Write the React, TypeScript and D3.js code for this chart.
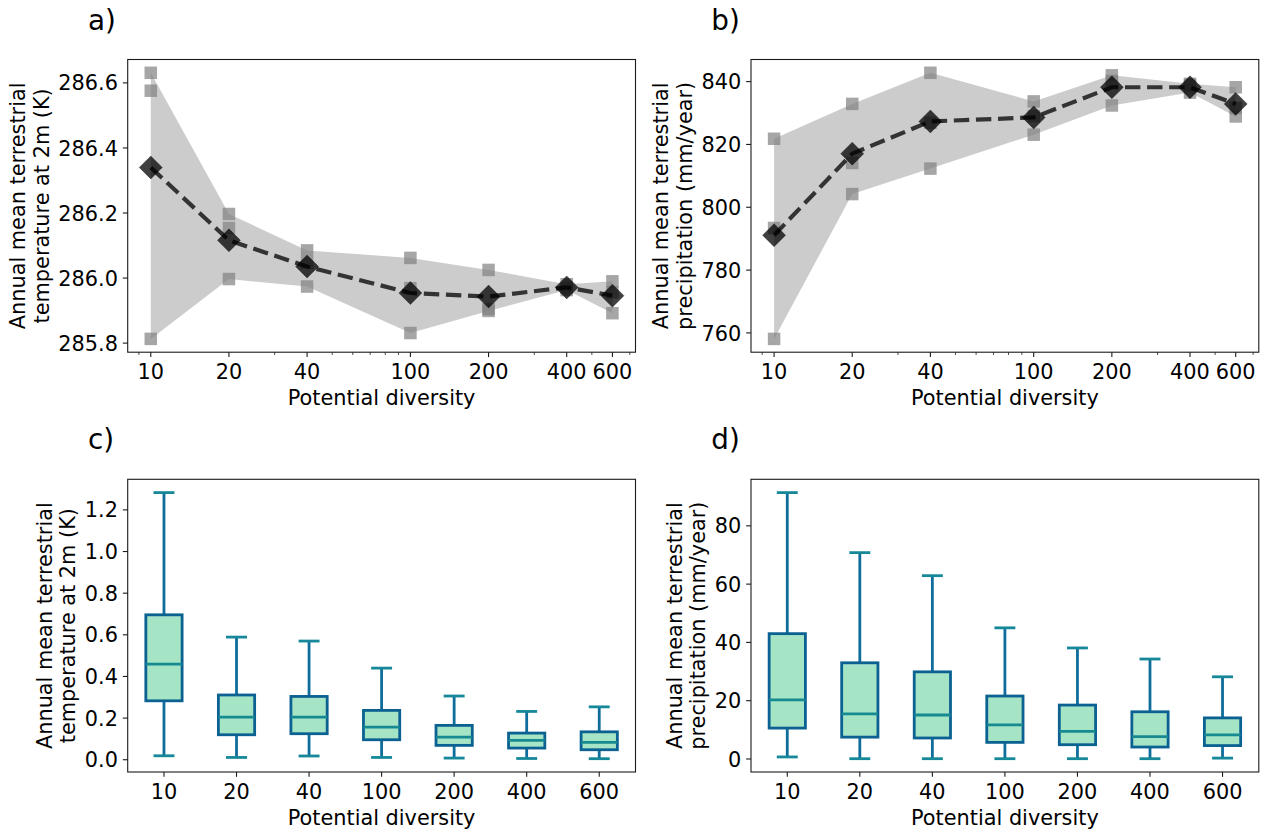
import React from 'react';
import * as d3 from 'd3';

// ---------- data ----------
const diversity = [10, 20, 40, 100, 200, 400, 600];
const diversityLabels = ['10', '20', '40', '100', '200', '400', '600'];

// panel a: three runs of annual mean terrestrial 2m temperature (K)
const tempRun1 = [286.631, 286.197, 286.085, 286.062, 286.025, 285.981, 285.990];
const tempRun2 = [286.576, 286.154, 286.047, 285.969, 285.905, 285.970, 285.956];
const tempRun3 = [285.813, 285.997, 285.974, 285.831, 285.899, 285.963, 285.892];
const tempTicks = [285.8, 286.0, 286.2, 286.4, 286.6];

// panel b: three runs of annual mean terrestrial precipitation (mm/year)
const precRun1 = [821.8, 832.9, 842.8, 833.7, 842.0, 839.3, 838.2];
const precRun2 = [793.4, 814.1, 826.9, 829.0, 840.2, 838.8, 831.6];
const precRun3 = [758.1, 804.2, 812.3, 823.1, 832.4, 836.5, 828.9];
const precTicks = [760, 780, 800, 820, 840];

// panel c: box statistics of temperature differences (K)
const tBoxLow = [0.019, 0.011, 0.018, 0.011, 0.008, 0.006, 0.005];
const tBoxQ1 = [0.283, 0.120, 0.125, 0.096, 0.069, 0.056, 0.048];
const tBoxMed = [0.459, 0.205, 0.205, 0.157, 0.109, 0.093, 0.083];
const tBoxQ3 = [0.696, 0.311, 0.304, 0.237, 0.165, 0.128, 0.134];
const tBoxHigh = [1.283, 0.589, 0.570, 0.440, 0.306, 0.232, 0.254];
const tBoxTicks = [0, 0.2, 0.4, 0.6, 0.8, 1.0, 1.2];

// panel d: box statistics of precipitation differences (mm/year)
const pBoxLow = [0.7, 0.1, 0.1, 0.1, 0.1, 0.1, 0.3];
const pBoxQ1 = [10.6, 7.5, 7.2, 5.7, 4.9, 4.1, 4.6];
const pBoxMed = [20.3, 15.5, 15.1, 11.7, 9.5, 7.7, 8.3];
const pBoxQ3 = [43.0, 33.0, 29.9, 21.6, 18.5, 16.2, 14.1];
const pBoxHigh = [91.4, 70.8, 62.9, 45.0, 38.1, 34.3, 28.2];
const pBoxTicks = [0, 20, 40, 60, 80];

// ---------- style ----------
const FONT = '"DejaVu Sans", "Liberation Sans", sans-serif';
const FS = 20.83;
const TAG_FS = 27.8;
const W = 507.8;
const H = 292.7;
const SPINE = '#1a1a1a';

type LineProps = {
  left: number; top: number; runs: number[][]; ticks: number[]; fmt: (v: number) => string;
  tag: string; ylab: string[]; ylabX: number[];
};

function YLabel({ lines, xs, cy }: { lines: string[]; xs: number[]; cy: number }) {
  return (
    <g>
      {lines.map((t, i) => (
        <text key={i} transform={`translate(${xs[i]},${cy}) rotate(-90)`} textAnchor="middle"
          fontFamily={FONT} fontSize={FS} fill="#000">{t}</text>
      ))}
    </g>
  );
}

function YAxis({ left, y, ticks, fmt }: { left: number; y: d3.ScaleLinear<number, number>; ticks: number[]; fmt: (v: number) => string }) {
  return (
    <g>
      {ticks.map((t, i) => (
        <g key={i}>
          <line x1={left - 4.86} x2={left} y1={y(t)} y2={y(t)} stroke={SPINE} strokeWidth={1.1} />
          <text x={left - 9.72} y={y(t) + 7.6} textAnchor="end" fontFamily={FONT} fontSize={FS} fill="#000">{fmt(t)}</text>
        </g>
      ))}
    </g>
  );
}

function LinePanel({ left, top, runs, ticks, fmt, tag, ylab, ylabX }: LineProps) {
  const lx = Math.log10(diversity[0]);
  const hx = Math.log10(diversity[diversity.length - 1]);
  const sx = hx - lx;
  const x = d3.scaleLog().domain([10 ** (lx - 0.05 * sx), 10 ** (hx + 0.05 * sx)]).range([left, left + W]);
  const all = runs.flat();
  const mn = d3.min(all) as number;
  const mx = d3.max(all) as number;
  const r = mx - mn;
  const y = d3.scaleLinear().domain([mn - 0.05 * r, mx + 0.05 * r]).range([top + H, top]);
  const lo = diversity.map((_, i) => d3.min(runs, (run) => run[i]) as number);
  const hi = diversity.map((_, i) => d3.max(runs, (run) => run[i]) as number);
  const mean = diversity.map((_, i) => d3.mean(runs, (run) => run[i]) as number);
  const area = d3.area<number>()
    .x((d) => x(d))
    .y0((_, i) => y(lo[i]))
    .y1((_, i) => y(hi[i]));
  const line = d3.line<number>().x((d) => x(d)).y((_, i) => y(mean[i]));
  const [d0, d1] = x.domain();
  const minor: number[] = [];
  for (let e = 0; e <= 3; e++) {
    for (let k = 1; k <= 9; k++) {
      const v = k * 10 ** e;
      if (v >= d0 && v <= d1 && !diversity.includes(v)) minor.push(v);
    }
  }
  const bottom = top + H;
  const sq = 12.5;
  const dm = 11.5;
  return (
    <g>
      <path d={area(diversity) as string} fill="#808080" fillOpacity={0.4} />
      {runs.map((run, ri) => run.map((v, i) => (
        <rect key={`${ri}-${i}`} x={x(diversity[i]) - sq / 2} y={y(v) - sq / 2} width={sq} height={sq}
          fill="#808080" fillOpacity={0.7} />
      )))}
      <path d={line(diversity) as string} fill="none" stroke="#000" strokeOpacity={0.75} strokeWidth={4.2}
        strokeDasharray="15.4 6.7" />
      {diversity.map((dv, i) => {
        const cx = x(dv);
        const cy = y(mean[i]);
        return (
          <path key={i} d={`M${cx},${cy - dm}L${cx + dm},${cy}L${cx},${cy + dm}L${cx - dm},${cy}Z`}
            fill="#000" fillOpacity={0.75} stroke="#000" strokeOpacity={0.3} strokeWidth={1} />
        );
      })}
      <rect x={left} y={top} width={W} height={H} fill="none" stroke={SPINE} strokeWidth={1.1} />
      {minor.map((v, i) => (
        <line key={i} x1={x(v)} x2={x(v)} y1={bottom} y2={bottom + 2.78} stroke={SPINE} strokeWidth={0.8} />
      ))}
      {diversity.map((v, i) => (
        <g key={i}>
          <line x1={x(v)} x2={x(v)} y1={bottom} y2={bottom + 4.86} stroke={SPINE} strokeWidth={1.1} />
          <text x={x(v)} y={bottom + 26.5} textAnchor="middle" fontFamily={FONT} fontSize={FS}>{diversityLabels[i]}</text>
        </g>
      ))}
      <text x={left + W / 2} y={bottom + 52.5} textAnchor="middle" fontFamily={FONT} fontSize={FS}>Potential diversity</text>
      <YAxis left={left} y={y} ticks={ticks} fmt={fmt} />
      <YLabel lines={ylab} xs={ylabX} cy={top + H / 2} />
      <text x={left - 39.7} y={top - 30} fontFamily={FONT} fontSize={TAG_FS}>{tag}</text>
    </g>
  );
}

type BoxProps = {
  left: number; top: number; low: number[]; q1: number[]; med: number[]; q3: number[]; high: number[];
  ticks: number[]; fmt: (v: number) => string; tag: string; ylab: string[]; ylabX: number[];
};

function BoxPanel({ left, top, low, q1, med, q3, high, ticks, fmt, tag, ylab, ylabX }: BoxProps) {
  const x = d3.scaleLinear().domain([0.5, diversity.length + 0.5]).range([left, left + W]);
  const mn = d3.min(low) as number;
  const mx = d3.max(high) as number;
  const r = mx - mn;
  const y = d3.scaleLinear().domain([mn - 0.05 * r, mx + 0.05 * r]).range([top + H, top]);
  const bw = x(1.25) - x(0.75);
  const cw = x(1.125) - x(0.875);
  const bottom = top + H;
  const boxEdge = '#0b6191';
  const whisk = '#0f6d9b';
  const capC = '#16889a';
  const medC = '#178a91';
  const fillC = '#a6e4c6';
  return (
    <g>
      {diversity.map((_, i) => {
        const cx = x(i + 1);
        return (
          <g key={i}>
            <line x1={cx} x2={cx} y1={y(q1[i])} y2={y(low[i])} stroke={whisk} strokeWidth={2.8} />
            <line x1={cx} x2={cx} y1={y(q3[i])} y2={y(high[i])} stroke={whisk} strokeWidth={2.8} />
            <line x1={cx - cw / 2} x2={cx + cw / 2} y1={y(low[i])} y2={y(low[i])} stroke={capC} strokeWidth={2.8} strokeLinecap="square" />
            <line x1={cx - cw / 2} x2={cx + cw / 2} y1={y(high[i])} y2={y(high[i])} stroke={capC} strokeWidth={2.8} strokeLinecap="square" />
            <rect x={cx - bw / 2} y={y(q3[i])} width={bw} height={y(q1[i]) - y(q3[i])} fill={fillC} stroke={boxEdge} strokeWidth={2.8} />
            <line x1={cx - bw / 2} x2={cx + bw / 2} y1={y(med[i])} y2={y(med[i])} stroke={medC} strokeWidth={2.8} />
          </g>
        );
      })}
      <rect x={left} y={top} width={W} height={H} fill="none" stroke={SPINE} strokeWidth={1.1} />
      {diversity.map((_, i) => (
        <g key={i}>
          <line x1={x(i + 1)} x2={x(i + 1)} y1={bottom} y2={bottom + 4.86} stroke={SPINE} strokeWidth={1.1} />
          <text x={x(i + 1)} y={bottom + 26.5} textAnchor="middle" fontFamily={FONT} fontSize={FS}>{diversityLabels[i]}</text>
        </g>
      ))}
      <text x={left + W / 2} y={bottom + 52.5} textAnchor="middle" fontFamily={FONT} fontSize={FS}>Potential diversity</text>
      <YAxis left={left} y={y} ticks={ticks} fmt={fmt} />
      <YLabel lines={ylab} xs={ylabX} cy={top + H / 2} />
      <text x={left - 39.7} y={top - 30} fontFamily={FONT} fontSize={TAG_FS}>{tag}</text>
    </g>
  );
}

export default function App() {
  const f1 = d3.format('.1f');
  const f0 = d3.format('d');
  const tempLab = ['Annual mean terrestrial', 'temperature at 2m (K)'];
  const precLab = ['Annual mean terrestrial', 'precipitation (mm/year)'];
  return (
    <svg width={1264} height={829} viewBox="0 0 1264 829"
      style={{ position: 'absolute', left: 0, top: 0, background: '#fff' }}>
      <rect width={1264} height={829} fill="#fff" />
      <LinePanel left={127.7} top={59.5} runs={[tempRun1, tempRun2, tempRun3]} ticks={tempTicks} fmt={f1}
        tag="a)" ylab={tempLab} ylabX={[25, 48.5]} />
      <LinePanel left={751} top={59.5} runs={[precRun1, precRun2, precRun3]} ticks={precTicks} fmt={f0}
        tag="b)" ylab={precLab} ylabX={[668, 691.5]} />
      <BoxPanel left={127.7} top={479.3} low={tBoxLow} q1={tBoxQ1} med={tBoxMed} q3={tBoxQ3} high={tBoxHigh}
        ticks={tBoxTicks} fmt={f1} tag="c)" ylab={tempLab} ylabX={[51.5, 75]} />
      <BoxPanel left={751} top={479.3} low={pBoxLow} q1={pBoxQ1} med={pBoxMed} q3={pBoxQ3} high={pBoxHigh}
        ticks={pBoxTicks} fmt={f0} tag="d)" ylab={precLab} ylabX={[681.5, 705]} />
    </svg>
  );
}
